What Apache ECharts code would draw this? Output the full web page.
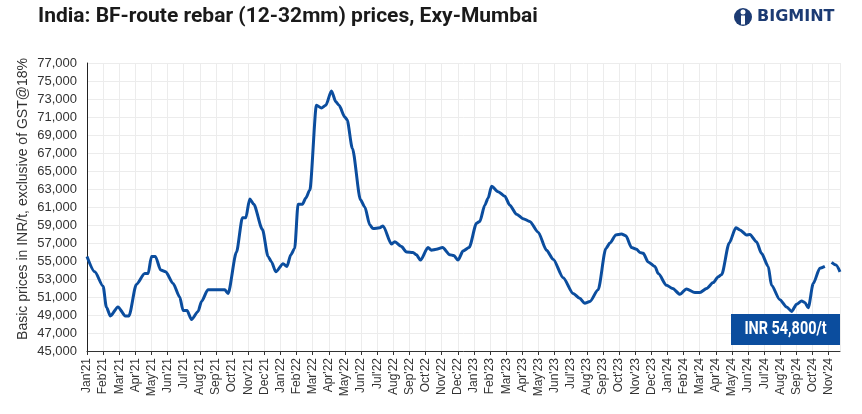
<!DOCTYPE html>
<html>
<head>
<meta charset="utf-8">
<script src="https://cdn.jsdelivr.net/npm/echarts@6/dist/echarts.min.js"></script>
<style>
  html, body { margin: 0; padding: 0; background: #fff; }
  #chart { width: 862px; height: 414px; }
</style>
</head>
<body>
<div id="chart"></div>
<script>
// tick labels: one per month, Jan'21 .. Nov'24
const monthNames = ["Jan", "Feb", "Mar", "Apr", "May", "Jun", "Jul", "Aug", "Sep", "Oct", "Nov", "Dec"];
const years = ["21", "22", "23", "24"];
const monthLabels = [];
years.forEach((y) => monthNames.forEach((m) => monthLabels.push(m + "'" + y)));
monthLabels.length = 47;

// position of each price reading, in months since Jan'21
const monthPos = [
  0.00, 0.48, 1.00, 1.20, 1.45, 1.92, 2.38, 2.60, 3.06, 3.58, 3.79, 4.00, 4.24, 4.57, 4.88,
  5.34, 5.75, 5.96, 6.20, 6.48, 6.89, 7.10, 7.50, 8.54, 8.75, 9.27, 9.64, 9.85, 10.09, 10.34,
  10.88, 11.23, 11.44, 11.71, 12.16, 12.40, 12.64, 12.88, 13.09, 13.36, 13.57, 13.82, 14.23, 14.54, 14.81,
  15.16, 15.43, 15.63, 15.99, 16.13, 16.46, 16.96, 17.23, 17.54, 17.74, 18.16, 18.36, 18.88, 19.09, 19.50,
  19.82, 20.22, 20.43, 20.68, 21.15, 21.36, 21.67, 22.05, 22.50, 22.75, 23.01, 23.32, 23.70, 24.16, 24.36,
  24.67, 24.88, 25.09, 25.50, 25.91, 26.22, 26.64, 27.05, 27.46, 27.98, 28.50, 28.91, 29.53, 30.15, 30.56,
  30.87, 31.19, 31.70, 32.18, 32.43, 32.80, 33.15, 33.42, 33.77, 34.08, 34.29, 34.50, 34.80, 35.22, 35.43,
  35.94, 36.32, 36.77, 37.18, 37.70, 38.01, 38.43, 38.84, 39.15, 39.36, 39.83, 40.24, 40.49, 40.90, 41.11,
  41.52, 41.83, 42.25, 42.45, 42.97, 43.39, 43.70, 44.01, 44.32, 44.52, 44.73, 45.04, 45.45, 45.76, 45.97,
  46.18, 46.45, 46.70
];

// INR/t, null = no reading
const prices = [
  55500, 53800, 52200, 49900, 48900, 49900, 48900, 48900, 52400, 53600, 53600, 55500, 55500, 54000, 53800,
  52500, 51000, 49500, 49500, 48500, 49400, 50500, 51800, 51800, 51400, 56000, 59800, 59800, 61900, 61300,
  58500, 55500, 54900, 53800, 54700, 54400, 55700, 56400, 61300, 61300, 62000, 62900, 72300, 72000, 72300,
  73900, 72700, 72300, 71000, 70700, 67500, 61800, 61000, 59000, 58600, 58700, 58900, 56900, 57150, 56600,
  56000, 55950, 55700, 55100, 56500, 56200, 56300, 56500, 55700, 55600, 55100, 56100, 56500, 59200, 59400,
  61200, 62000, 63300, 62700, 62200, 61200, 60200, 59700, 59400, 58200, 56200, 55200, 53150, 51400, 50850,
  50300, 50500, 51800, 56400, 57000, 57900, 58000, 57800, 56500, 56300, 55950, 55850, 54900, 54400, 53600,
  52300, 51950, 51300, 51900, 51500, 51500, 51950, 52600, 53250, 53500, 57000, 58700, 58450, 57900, 57950,
  57150, 55850, 54400, 52300, 50700, 49900, 49400, 50200, 50550, 50400, 49800, 52500, 54200, 54400, null,
  54850, 54550, 53800
];

const latestLabel = "INR 54,800/t";

const lineColor = "#0b4d9e";
const navy = "#1c3b73";
const xMax = 46.7; // axis runs a little past the Nov'24 tick

const chart = echarts.init(document.getElementById("chart"));

const option = {
  animation: false,
  backgroundColor: "#ffffff",
  grid: [
    // data grid
    { left: 87, right: 22, top: 63, bottom: 63 },
    // month label grid: same scale, ends at the last month tick
    { left: 87, right: 22 + (753 * (xMax - 46)) / xMax, top: 63, bottom: 63 },
  ],
  xAxis: [
    {
      type: "value",
      gridIndex: 0,
      min: 0,
      max: xMax,
      interval: 1,
      axisLine: {
        lineStyle: { color: "#333", width: 1 },
      },
      axisTick: { show: false },
      axisLabel: { show: false },
      splitLine: {
        lineStyle: { color: "#ececec", width: 1 },
      },
    },
    {
      type: "category",
      gridIndex: 1,
      data: monthLabels,
      boundaryGap: false,
      axisLine: { show: false },
      axisTick: {
        interval: 0,
        length: 4,
        lineStyle: { color: "#333" },
      },
      axisLabel: {
        interval: 0,
        rotate: 90,
        margin: 7,
        fontSize: 12,
        fontFamily: "Liberation Sans",
        color: "#333",
      },
      splitLine: { show: false },
    },
  ],
  yAxis: [
    {
      type: "value",
      gridIndex: 0,
      min: 45000,
      max: 77000,
      interval: 2000,
      axisLine: {
        show: true,
        lineStyle: { color: "#222", width: 1 },
      },
      axisTick: { show: false },
      axisLabel: {
        margin: 10,
        fontSize: 13,
        fontFamily: "Liberation Sans",
        color: "#333",
        formatter: (v) => v.toLocaleString("en-US"),
      },
      splitLine: {
        lineStyle: { color: "#ececec", width: 1 },
      },
    },
    {
      type: "value",
      gridIndex: 1,
      min: 0,
      max: 1,
      show: false,
    },
  ],
  series: [
    {
      type: "line",
      xAxisIndex: 0,
      yAxisIndex: 0,
      data: monthPos.map((m, i) => [m, prices[i] === null ? "-" : prices[i]]),
      showSymbol: false,
      connectNulls: false,
      smooth: 0.25,
      smoothMonotone: "x",
      lineStyle: { color: lineColor, width: 3 },
      itemStyle: { color: lineColor },
      z: 3,
    },
  ],
  graphic: [
    {
      type: "text",
      left: 38,
      top: 6,
      style: {
        text: "India: BF-route rebar (12-32mm) prices, Exy-Mumbai",
        font: "bold 21px Roboto, sans-serif",
        fill: "#1a1a1a",
      },
    },
    {
      type: "text",
      x: 23,
      y: 199,
      rotation: Math.PI / 2,
      style: {
        text: "Basic prices in INR/t, exclusive of GST@18%",
        font: "14px 'Liberation Sans', sans-serif",
        fill: "#333",
        align: "center",
        verticalAlign: "middle",
      },
    },
    // logo
    {
      type: "circle",
      shape: { cx: 743, cy: 17, r: 9 },
      style: { fill: navy },
    },
    {
      type: "circle",
      shape: { cx: 743, cy: 12, r: 2.5 },
      style: { fill: "#fff" },
    },
    {
      type: "rect",
      shape: { x: 741, y: 15.5, width: 4, height: 9 },
      style: { fill: "#fff" },
    },
    {
      type: "text",
      x: 757,
      y: 17,
      style: {
        text: "BIGMINT",
        font: "bold 16px 'DejaVu Sans', sans-serif",
        fill: navy,
        verticalAlign: "middle",
      },
    },
    // latest price box
    {
      type: "rect",
      z: 100,
      shape: { x: 731, y: 314, width: 109, height: 31 },
      style: { fill: lineColor },
    },
    {
      type: "text",
      z: 101,
      x: 785.5,
      y: 329.5,
      scaleX: 0.8,
      style: {
        text: latestLabel,
        font: "bold 18px Roboto, sans-serif",
        fill: "#fff",
        align: "center",
        verticalAlign: "middle",
      },
    },
  ],
};

chart.setOption(option);
</script>
</body>
</html>
